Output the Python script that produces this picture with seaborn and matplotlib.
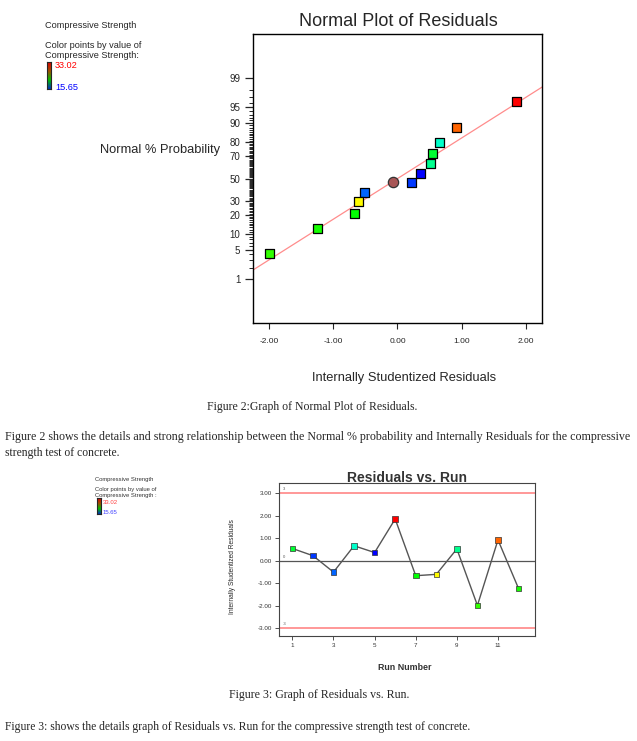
import numpy as np
import pandas as pd
import matplotlib
matplotlib.use("Agg")
import matplotlib.pyplot as plt
import seaborn as sns
from matplotlib.colors import LinearSegmentedColormap
from statistics import NormalDist

# values
runs = [1, 2, 3, 4, 5, 6, 7, 8, 9, 10, 11, 12]
residuals = [0.54, 0.22, -0.51, 0.66, 0.36, 1.85, -0.67, -0.61, 0.52, -1.99, 0.92, -1.24]
normal_prob = [71.6, 46.8, 37.8, 80.0, 54.8, 96.2, 20.9, 29.5, 63.3, 4.1, 88.1, 12.5]
strength = [23.5, 16.6, 17.4, 20.9, 15.65, 33.02, 24.3, 28.7, 21.9, 25.2, 31.3, 24.7]
center_resid = [-0.07]
center_prob = [47.2]
fit_resid = [-2.25, 2.25]
fit_prob = [1.74, 98.26]
prob_ticks = [1, 5, 10, 20, 30, 50, 70, 80, 90, 95, 99]
run_ticks = [1, 3, 5, 7, 9, 11]
resid_ticks = [-3, -2, -1, 0, 1, 2, 3]
s_min, s_max = 15.65, 33.02

df = pd.DataFrame({"run": runs, "resid": residuals, "prob": normal_prob, "strength": strength})

cmap = LinearSegmentedColormap.from_list(
    "de", [(0, "#0000ff"), (0.25, "#00ffff"), (0.5, "#00ff00"), (0.75, "#ffff00"), (1, "#ff0000")])
bar_cmap = LinearSegmentedColormap.from_list("bar", ["#0030c0", "#00c000", "#a05000", "#e00000"])

sns.set_style("ticks")
plt.rcParams["font.family"] = ["Liberation Sans", "DejaVu Sans"]
plt.rcParams["axes.unicode_minus"] = False

fig = plt.figure(figsize=(6.37, 7.41), dpi=100)

# ---------- normal plot ----------
nd = NormalDist()
fwd = np.vectorize(lambda p: nd.inv_cdf(min(max(p, 1e-6), 100 - 1e-6) / 100), otypes=[float])
inv = np.vectorize(lambda z: nd.cdf(z) * 100, otypes=[float])

ax1 = fig.add_axes([0.397, 0.564, 0.454, 0.390])
ax1.set_yscale("function", functions=(fwd, inv))
sns.lineplot(x=fit_resid, y=fit_prob, color="#ff8c8c", lw=0.9, ax=ax1, zorder=2)
sns.scatterplot(data=df, x="resid", y="prob", hue="strength", palette=cmap,
                hue_norm=(s_min, s_max), marker="s", s=42, edgecolor="black",
                linewidth=0.9, legend=False, ax=ax1, zorder=3)
sns.scatterplot(x=center_resid, y=center_prob, marker="o", s=55, color="#a85656",
                edgecolor="#333333", linewidth=0.9, ax=ax1, zorder=3)
ax1.set_xlim(-2.25, 2.25)
ax1.set_ylim(0.043, 99.957)
ax1.set_xticks([-2, -1, 0, 1, 2])
ax1.set_xticklabels(["%.2f" % v for v in [-2, -1, 0, 1, 2]])
ax1.set_yticks(prob_ticks)
ax1.set_yticklabels([str(v) for v in prob_ticks])
minor = [v for v in range(2, 99) if v not in prob_ticks]
ax1.set_yticks(minor, minor=True)
ax1.tick_params(axis="y", which="major", length=6, width=0.9, labelsize=7, pad=3)
ax1.tick_params(axis="y", which="minor", length=3, width=0.7)
ax1.tick_params(axis="x", length=4, width=0.8, labelsize=6, pad=7)
ax1.set_xlabel("")
ax1.set_ylabel("")
for sp in ax1.spines.values():
    sp.set_linewidth(1.0)
    sp.set_color("black")

fig.text(398 / 637, 1 - 22 / 741, "Normal Plot of Residuals", ha="center", va="center", fontsize=13)
fig.text(100 / 637, 1 - 150 / 741, "Normal % Probability", ha="left", va="center", fontsize=9.3)
fig.text(404 / 637, 1 - 378 / 741, "Internally Studentized Residuals", ha="center", va="center", fontsize=9.3)

fig.text(45 / 637, 1 - 25 / 741, "Compressive Strength", ha="left", va="center", fontsize=6.6)
fig.text(45 / 637, 1 - 46 / 741, "Color points by value of", ha="left", va="center", fontsize=6.6)
fig.text(45 / 637, 1 - 55 / 741, "Compressive Strength:", ha="left", va="center", fontsize=6.6)
fig.text(55 / 637, 1 - 66 / 741, "%.2f" % s_max, color="red", ha="left", va="center", fontsize=6.6)
fig.text(55 / 637, 1 - 87 / 741, "%.2f" % s_min, color="blue", ha="left", va="center", fontsize=6.6)
cb1 = fig.add_axes([46.5 / 637, 1 - 89 / 741, 4 / 637, 27 / 741])
cb1.imshow(np.linspace(1, 0, 64).reshape(-1, 1), aspect="auto", cmap=bar_cmap)
cb1.set_xticks([])
cb1.set_yticks([])

# ---------- residuals vs run ----------
ax2 = fig.add_axes([279 / 637, 1 - 636 / 741, 256 / 637, 153 / 741])
ax2.axhline(3, color="#ff9090", lw=1.3, zorder=1)
ax2.axhline(-3, color="#ff9090", lw=1.3, zorder=1)
ax2.axhline(0, color="#555555", lw=0.9, zorder=1)
sns.lineplot(data=df, x="run", y="resid", color="#555555", lw=1.0, ax=ax2, zorder=2)
sns.scatterplot(data=df, x="run", y="resid", hue="strength", palette=cmap,
                hue_norm=(s_min, s_max), marker="s", s=16, edgecolor="#333333",
                linewidth=0.5, legend=False, ax=ax2, zorder=3)
ax2.set_xlim(0.35, 12.8)
ax2.set_ylim(-3.35, 3.45)
ax2.set_xticks(run_ticks)
ax2.set_yticks(resid_ticks)
ax2.set_yticklabels(["%.2f" % v for v in resid_ticks])
ax2.tick_params(length=3, width=0.6, labelsize=4.5, colors="#333333", pad=2)
ax2.set_xlabel("")
ax2.set_ylabel("")
for sp in ax2.spines.values():
    sp.set_linewidth(0.8)
    sp.set_color("#444444")
ax2.text(0.55, 3.12, "3", fontsize=3, color="#555555")
ax2.text(0.55, 0.12, "0", fontsize=3, color="#555555")
ax2.text(0.55, -2.88, "-3", fontsize=3, color="#555555")

fig.text(407 / 637, 1 - 478 / 741, "Residuals vs. Run", ha="center", va="center", fontsize=10, fontweight="bold", color="#333333")
fig.text(233 / 637, 1 - 567 / 741, "Internally Studentized Residuals", ha="center", va="center",
         rotation=90, fontsize=4.8)
fig.text(405 / 637, 1 - 667 / 741, "Run Number", ha="center", va="center", fontsize=6.4, fontweight="bold", color="#333333")

fig.text(95 / 637, 1 - 480 / 741, "Compressive Strength", ha="left", va="center", fontsize=4.2, color="#333333")
fig.text(95 / 637, 1 - 490 / 741, "Color points by value of", ha="left", va="center", fontsize=4.2, color="#333333")
fig.text(95 / 637, 1 - 495.5 / 741, "Compressive Strength :", ha="left", va="center", fontsize=4.2, color="#333333")
fig.text(103 / 637, 1 - 502 / 741, "%.2f" % s_max, color="#ff4040", ha="left", va="center", fontsize=4.3)
fig.text(103 / 637, 1 - 512 / 741, "%.2f" % s_min, color="#4040ff", ha="left", va="center", fontsize=4.3)
cb2 = fig.add_axes([97 / 637, 1 - 514 / 741, 4 / 637, 16 / 741])
cb2.imshow(np.linspace(1, 0, 64).reshape(-1, 1), aspect="auto", cmap=bar_cmap)
cb2.set_xticks([])
cb2.set_yticks([])

# ---------- captions ----------
serif = ["Liberation Serif", "DejaVu Serif"]
fig.text(312 / 637, 1 - 407 / 741, "Figure 2:Graph of Normal Plot of Residuals.", ha="center", va="center", fontsize=8.5, family=serif)
fig.text(5 / 637, 1 - 437 / 741, "Figure 2 shows the details and strong relationship between the Normal % probability and Internally Residuals for the compressive",
         ha="left", va="center", fontsize=8.68, family=serif)
fig.text(5 / 637, 1 - 453 / 741, "strength test of concrete.", ha="left", va="center", fontsize=8.4, family=serif)
fig.text(319 / 637, 1 - 695 / 741, "Figure 3: Graph of Residuals vs. Run.", ha="center", va="center", fontsize=8.6, family=serif)
fig.text(5 / 637, 1 - 727 / 741, "Figure 3: shows the details graph of Residuals vs. Run for the compressive strength test of concrete.",
         ha="left", va="center", fontsize=8.35, family=serif)

fig.savefig("out.png", dpi=100, facecolor="white")
